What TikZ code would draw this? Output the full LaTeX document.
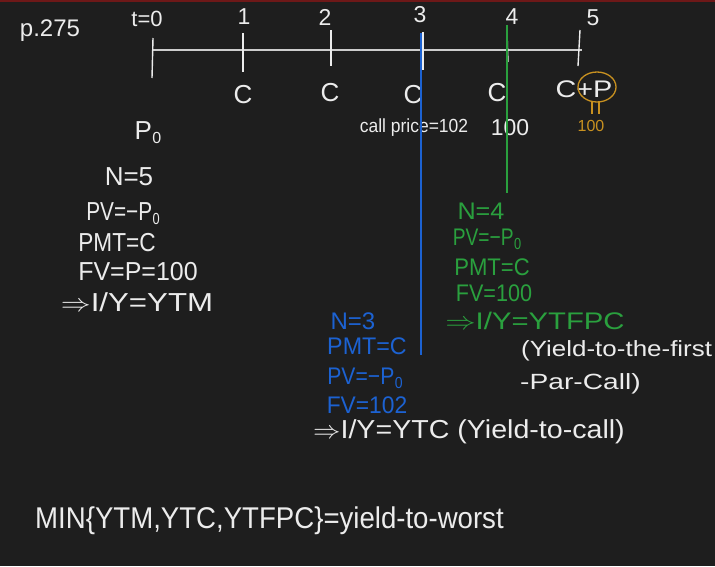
\documentclass[tikz,border=0pt]{standalone}
\usepackage{graphicx}
\usepackage{fontspec}
\setmainfont{Liberation Sans}
\definecolor{bg}{RGB}{30,30,30}
\definecolor{ink}{RGB}{236,236,236}
\definecolor{axis}{RGB}{205,205,205}
\definecolor{bluei}{RGB}{28,98,210}
\definecolor{greeni}{RGB}{42,160,62}
\definecolor{orangei}{RGB}{200,145,32}
\definecolor{topred}{RGB}{110,24,24}
\newcommand{\Pz}{P\kern0.02em\raisebox{-0.3ex}{\fontsize{16}{16}\selectfont 0}}
\newcommand{\hs}[2]{\scalebox{#1}[1]{#2}}
\begin{document}
\begin{tikzpicture}[x=1pt,y=-1pt,
  hw/.style={text=ink,inner sep=0pt,font=\fontsize{26}{28}\selectfont},
  hwb/.style={hw,text=bluei,font=\fontsize{24}{26}\selectfont},
  hwg/.style={hw,text=greeni,font=\fontsize{24}{26}\selectfont},
  tick/.style={draw=ink,line width=1.4pt},
  tl/.style={draw=axis,line width=1.6pt}]
\fill[bg] (0,0) rectangle (715,566);
\useasboundingbox (0,0) rectangle (715,566);
\fill[topred] (0,0) rectangle (715,2);
% header
\node[hw,font=\fontsize{24}{26}\selectfont] (page) at (50,31) {p.275};
\node[hw,font=\fontsize{22}{24}\selectfont] (t0) at (147,19) {t=0};
% timeline
\coordinate (L) at (153,50);
\coordinate (R) at (582,50);
\draw[tl] (L) -- (R);
\coordinate (k0a) at (153,38); \coordinate (k0b) at (152,78);
\coordinate (k1a) at (243,33); \coordinate (k1b) at (243,72);
\coordinate (k2a) at (331,30); \coordinate (k2b) at (331,66);
\coordinate (k3a) at (423,32); \coordinate (k3b) at (423,70);
\coordinate (k4a) at (507,32); \coordinate (k4b) at (508,62);
\coordinate (k5a) at (580,30); \coordinate (k5b) at (578,66);
\foreach \k in {0,...,5} {\draw[tick] (k\k a) -- (k\k b);}
\node[hw,font=\fontsize{23}{25}\selectfont] (n1) at (244,17) {1};
\node[hw,font=\fontsize{23}{25}\selectfont] (n2) at (325,17) {2};
\node[hw,font=\fontsize{23}{25}\selectfont] (n3) at (420,15) {3};
\node[hw,font=\fontsize{23}{25}\selectfont] (n4) at (512,17) {4};
\node[hw,font=\fontsize{23}{25}\selectfont] (n5) at (593,18) {5};
% coupons
\node[hw] (c1) at (243,95) {C};
\node[hw] (c2) at (330,93) {C};
\node[hw] (c3) at (413,95) {C};
\node[hw] (c4) at (497,93) {C};
\node[hw,font=\fontsize{24}{26}\selectfont] (c5) at (584,89) {\hs{1.2}{C+P}};
\draw[orangei,line width=1.3pt] (597,87) ellipse [x radius=19,y radius=15];
\coordinate (o1a) at (592,101); \coordinate (o1b) at (592,114);
\coordinate (o2a) at (599,101); \coordinate (o2b) at (599,114);
\draw[orangei,line width=1.3pt] (o1a) -- (o1b) (o2a) -- (o2b);
\node[hw,text=orangei,font=\fontsize{16}{18}\selectfont] (o100) at (591,126) {100};
\node[hw,font=\fontsize{19}{21}\selectfont] (cp) at (414,128) {\hs{0.92}{call price=102}};
\node[hw,font=\fontsize{23}{25}\selectfont] (h100) at (510,128) {100};
% vertical call lines
\coordinate (bt) at (421,33); \coordinate (bb) at (421,355);
\draw[bluei,line width=1.5pt] (bt) -- (bb);
\coordinate (gt) at (507,25); \coordinate (gb) at (507,193);
\draw[greeni,line width=1.5pt] (gt) -- (gb);
% left block (YTM)
\node[hw] (p0) at (148,133) {\Pz};
\node[hw] (l1) at (129,177) {N=5};
\node[hw] (l2) at (123,214) {\hs{0.8}{PV=−\Pz}};
\node[hw] (l3) at (117,243) {\hs{0.87}{PMT=C}};
\node[hw] (l4) at (138,272) {\hs{0.96}{FV=P=100}};
\node[hw] (l5) at (137,302) {\hs{1.2}{$\Rightarrow$I/Y=YTM}};
% green block (YTFPC)
\node[hwg] (g1) at (481,211) {\hs{1.05}{N=4}};
\node[hwg] (g2) at (487,239) {\hs{0.8}{PV=−\Pz}};
\node[hwg] (g3) at (492,267) {\hs{0.92}{PMT=C}};
\node[hwg] (g4) at (494,293) {\hs{0.9}{FV=100}};
\node[hwg] (g5) at (535,321) {\hs{1.22}{$\Rightarrow$I/Y=YTFPC}};
\node[hw,anchor=west,font=\fontsize{22}{24}\selectfont] (y1) at (521,351) {\hs{1.18}{(Yield-to-the-first}};
\node[hw,anchor=west,font=\fontsize{22}{24}\selectfont] (y2) at (520,384) {\hs{1.28}{-Par-Call)}};
% blue block (YTC)
\node[hwb] (b1) at (353,321) {N=3};
\node[hwb] (b2) at (367,346) {\hs{0.97}{PMT=C}};
\node[hwb] (b3) at (365,378) {\hs{0.88}{PV=−\Pz}};
\node[hwb] (b4) at (367,405) {\hs{0.95}{FV=102}};
\node[hw,anchor=west] (ytc) at (313,432) {\hs{1.1}{$\Rightarrow$I/Y=YTC (Yield-to-call)}};
% bottom
\node[hw,anchor=west,font=\fontsize{30}{32}\selectfont] (worst) at (35,521) {\hs{0.92}{MIN\{YTM,YTC,YTFPC\}=yield-to-worst}};
\end{tikzpicture}
\end{document}
